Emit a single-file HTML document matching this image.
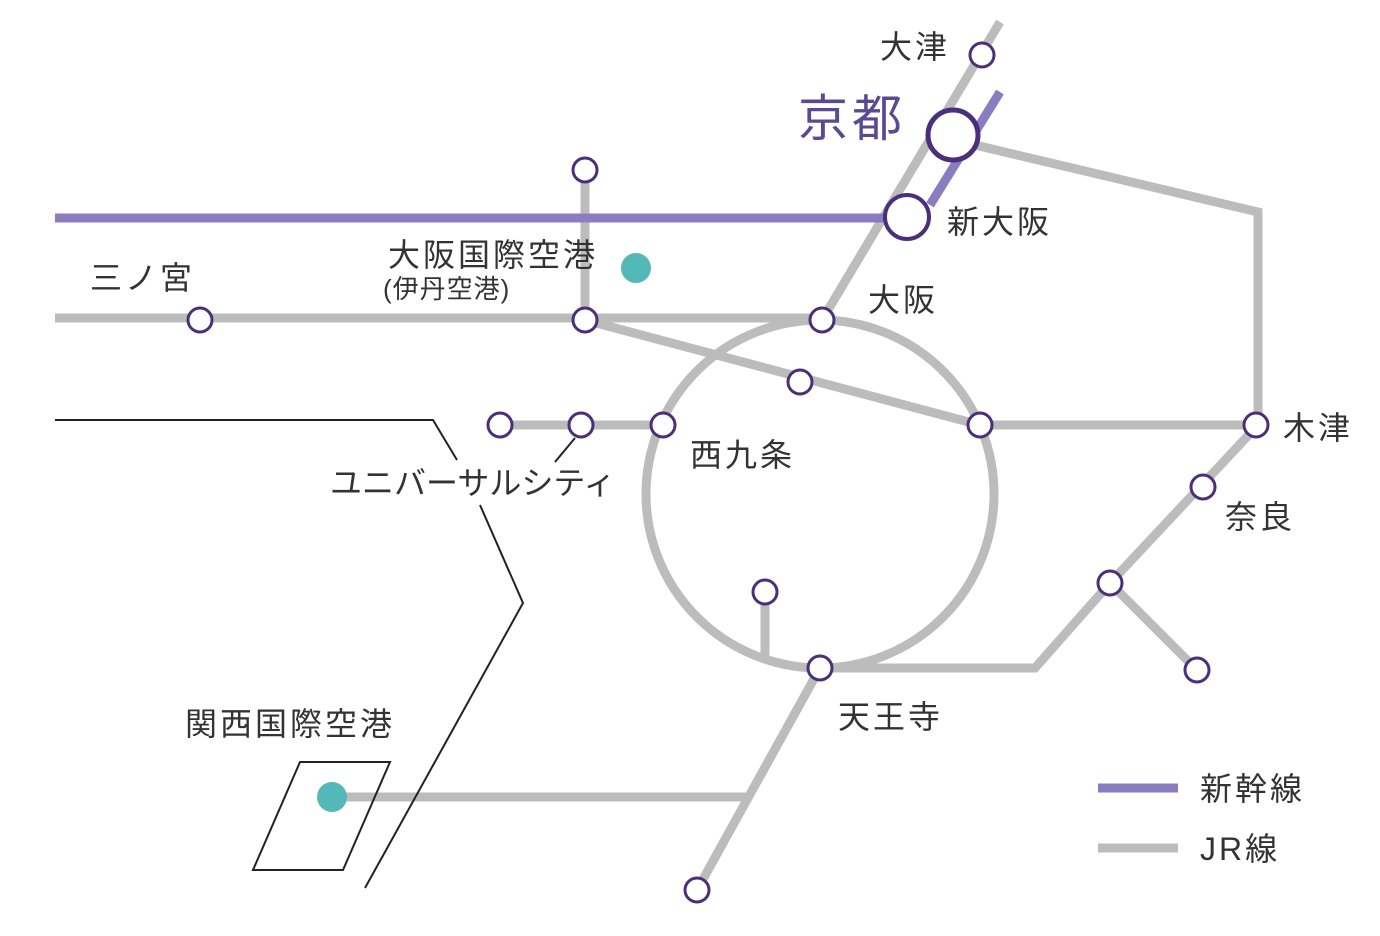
<!DOCTYPE html>
<html><head><meta charset="utf-8"><style>
html,body{margin:0;padding:0;background:#fff;}
svg{display:block;}
text{font-family:"Liberation Sans","Noto Sans CJK JP",sans-serif;fill:#333;}
</style></head><body>
<svg width="1380" height="936" viewBox="0 0 1380 936" xmlns="http://www.w3.org/2000/svg">
<g fill="none" stroke="#bcbcbc" stroke-width="9" stroke-linejoin="miter">
<circle cx="820" cy="494" r="174"/>
<line x1="1000" y1="22" x2="822" y2="320"/>
<polyline points="975,145 1258,212 1258,425"/>
<line x1="55" y1="318" x2="822" y2="318"/>
<line x1="585" y1="170" x2="585" y2="320"/>
<line x1="585" y1="320" x2="980" y2="425"/>
<line x1="980" y1="425" x2="1258" y2="425"/>
<line x1="500" y1="425" x2="663" y2="425"/>
<polyline points="1258,425 1110,583 1035,668 820,668"/>
<line x1="1110" y1="583" x2="1197" y2="670"/>
<line x1="765" y1="592" x2="765" y2="662"/>
<line x1="820" y1="668" x2="697" y2="890"/>
<line x1="332" y1="797" x2="750" y2="797"/>
<line x1="1098" y1="848" x2="1178" y2="848"/>
</g>
<g fill="none" stroke="#8a7cc0" stroke-width="9">
<line x1="55" y1="218" x2="900" y2="218"/>
<line x1="930" y1="205" x2="1000" y2="92"/>
<line x1="1098" y1="788" x2="1178" y2="788"/>
</g>
<g fill="none" stroke="#222" stroke-width="2">
<polyline points="55,420 433,420 457,460"/>
<polyline points="480,505 523,603 365,888"/>
<line x1="555" y1="462" x2="575" y2="438"/>
<polygon points="300,762 390,762 343,870 253,870"/>
</g>
<g fill="#fff" stroke="#4a2f7a" stroke-width="3">
<circle cx="982" cy="55" r="12"/>
<circle cx="585" cy="170" r="12"/>
<circle cx="200" cy="320" r="12"/>
<circle cx="585" cy="320" r="12"/>
<circle cx="822" cy="320" r="12"/>
<circle cx="800" cy="382" r="12"/>
<circle cx="500" cy="425" r="12"/>
<circle cx="581" cy="425" r="12"/>
<circle cx="663" cy="425" r="12"/>
<circle cx="980" cy="425" r="12"/>
<circle cx="1256" cy="425" r="12"/>
<circle cx="1203" cy="487" r="12"/>
<circle cx="1110" cy="583" r="12"/>
<circle cx="1197" cy="670" r="12"/>
<circle cx="765" cy="592" r="12"/>
<circle cx="820" cy="668" r="12"/>
<circle cx="697" cy="890" r="12"/>
<circle cx="907" cy="217" r="22" stroke-width="4"/>
<circle cx="953" cy="135" r="25" stroke-width="5"/>
</g>
<circle cx="636" cy="268" r="15" fill="#55b8b8"/>
<circle cx="332" cy="797" r="15" fill="#55b8b8"/>
<g font-size="32" letter-spacing="3">
<text x="880" y="58">大津</text>
<text x="798" y="136" font-size="50" letter-spacing="4" style="fill:#5a4a94">京都</text>
<text x="947" y="233">新大阪</text>
<text x="388" y="266">大阪国際空港</text>
<text x="383" y="298" font-size="26" letter-spacing="1">(伊丹空港)</text>
<text x="90" y="289">三ノ宮</text>
<text x="868" y="311">大阪</text>
<text x="1283" y="439">木津</text>
<text x="690" y="466">西九条</text>
<text x="330" y="494" letter-spacing="0">ユニバーサルシティ</text>
<text x="1225" y="528">奈良</text>
<text x="838" y="728">天王寺</text>
<text x="185" y="735">関西国際空港</text>
<text x="1200" y="800">新幹線</text>
<text x="1200" y="860">JR線</text>
</g>
</svg>
</body></html>
